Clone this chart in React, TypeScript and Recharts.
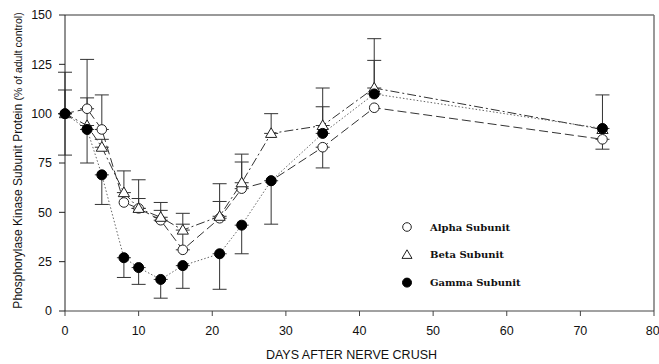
import React from "react";
import { LineChart, Line, XAxis, YAxis, ErrorBar, ReferenceLine, Legend } from "recharts";

const days = [0, 3, 5, 8, 10, 13, 16, 21, 24, 28, 35, 42, 73];
const alpha = [100, 102.5, 92, 55, 52, 46, 31, 47, 62, 66, 83, 103, 87];
const beta = [100, 94, 83, 60, 52, 47.5, 41, 48, 65, 90, 94, 113, 92];
const gamma = [100, 92, 69, 27, 22, 16, 23, 29, 43.5, 66, 90, 110, 92.5];

// [down, up] error amounts, null where no bar is drawn
type Err = [number, number] | null;
const alphaErr: Err[] = [[0, 21], [0, 25], [0, 17.5], null, [0, 14.5], [0, 5], [0, 13], [0, 8.5], [0, 13.5], null, [10.5, 0], null, [5, 0]];
const betaErr: Err[] = [[0, 12], [0, 14], [0, 4], [0, 11], [0, 5], [0, 7.5], [0, 8.5], [0, 16.5], [0, 14.5], [0, 10], [0, 19], [0, 25], null];
const gammaErr: Err[] = [[21, 0], [17, 0], [15, 0], [10, 0], [8.5, 0], [9.5, 0], [11.5, 0], [18, 0], [14.5, 0], [22, 0], [0, 13.5], [0, 17], [0, 17]];

const xTicks = [0, 10, 20, 30, 40, 50, 60, 70, 80];
const yTicks = [0, 25, 50, 75, 100, 125, 150];

const data = days.map((d, i) => ({
  day: d,
  alpha: alpha[i],
  beta: beta[i],
  gamma: gamma[i],
  alphaErr: alphaErr[i],
  betaErr: betaErr[i],
  gammaErr: gammaErr[i],
}));

const tickFont = { fontSize: 12.5, fill: "#111", fontFamily: "'Liberation Sans', Arial, sans-serif" };

// markers ignore the r that Line passes in, sizes are fixed
function OpenCircle(props: any) {
  const { cx, cy, size = 4.8 } = props;
  if (cx == null || cy == null) return null;
  return <circle cx={cx} cy={cy} r={size} fill="#fff" stroke="#222" strokeWidth={1} />;
}

function Triangle(props: any) {
  const { cx, cy, size = 5.6 } = props;
  if (cx == null || cy == null) return null;
  return (
    <path
      d={`M${cx},${cy - size} L${cx + size},${cy + size * 0.72} L${cx - size},${cy + size * 0.72} Z`}
      fill="#fff"
      stroke="#222"
      strokeWidth={1}
    />
  );
}

function FilledCircle(props: any) {
  const { cx, cy, size = 5 } = props;
  if (cx == null || cy == null) return null;
  return <circle cx={cx} cy={cy} r={size} fill="#000" stroke="#000" strokeWidth={1} />;
}

const legendShapes: Record<string, (cx: number, cy: number) => React.ReactNode> = {
  alpha: (cx, cy) => <OpenCircle cx={cx} cy={cy} size={4.3} />,
  beta: (cx, cy) => <Triangle cx={cx} cy={cy} size={5} />,
  gamma: (cx, cy) => <FilledCircle cx={cx} cy={cy} size={4.5} />,
};

function LegendBox(props: any) {
  const { payload = [] } = props;
  return (
    <svg width={200} height={80} style={{ display: "block" }}>
      {payload.map((entry: any, i: number) => {
        const cy = 10 + i * 27.8;
        return (
          <g key={entry.dataKey}>
            {legendShapes[entry.dataKey]?.(7, cy)}
            <text
              x={30}
              y={cy}
              dy="0.35em"
              fontSize={10}
              fontWeight="bold"
              fontFamily="'DejaVu Serif', serif"
              fill="#111"
            >
              {entry.value}
            </text>
          </g>
        );
      })}
    </svg>
  );
}

export default function App() {
  return (
    <div style={{ position: "absolute", left: 0, top: 0 }}>
      <LineChart width={659} height={364} data={data} margin={{ top: 15, right: 5, left: 0, bottom: 0 }}>
        <XAxis
          dataKey="day"
          type="number"
          domain={[0, 80]}
          ticks={xTicks}
          tick={tickFont}
          tickSize={5}
          tickMargin={10}
          height={53}
          stroke="#444"
          label={{
            content: ({ viewBox }: any) => (
              <text
                x={viewBox.x + viewBox.width / 2 - 8}
                y={358.5}
                textAnchor="middle"
                fontSize={12.5}
                fontFamily="'Liberation Sans', Arial, sans-serif"
                fill="#111"
              >
                DAYS AFTER NERVE CRUSH
              </text>
            ),
          }}
        />
        <YAxis
          type="number"
          domain={[0, 150]}
          ticks={yTicks}
          tick={tickFont}
          tickSize={6}
          tickMargin={7}
          width={65}
          stroke="#222"
          label={{
            content: () => (
              <text
                x={21.5}
                y={160.5}
                transform="rotate(-90, 21.5, 160.5)"
                textAnchor="middle"
                fontFamily="'Liberation Sans', Arial, sans-serif"
                fill="#111"
              >
                <tspan fontSize={12}>Phosphorylase Kinase Subunit Protein </tspan>
                <tspan fontSize={10.5}>(% of adult control)</tspan>
              </text>
            ),
          }}
        />
        <ReferenceLine y={150} stroke="#777" strokeWidth={1.5} />
        <ReferenceLine x={80} stroke="#777" strokeWidth={1.5} />
        <Legend
          layout="horizontal"
          align="center"
          verticalAlign="middle"
          content={<LegendBox />}
          wrapperStyle={{ left: 400, top: 216.5, width: 200, height: 80 }}
        />
        <Line
          dataKey="alpha"
          name="Alpha Subunit"
          stroke="#333"
          strokeWidth={1}
          strokeDasharray="9 4"
          dot={<OpenCircle />}
          activeDot={false}
          isAnimationActive={false}
        >
          <ErrorBar dataKey="alphaErr" direction="y" width={7} stroke="#333" strokeWidth={1} />
        </Line>
        <Line
          dataKey="beta"
          name="Beta Subunit"
          stroke="#333"
          strokeWidth={1}
          strokeDasharray="9 3 2 3"
          dot={<Triangle />}
          activeDot={false}
          isAnimationActive={false}
        >
          <ErrorBar dataKey="betaErr" direction="y" width={7} stroke="#333" strokeWidth={1} />
        </Line>
        <Line
          dataKey="gamma"
          name="Gamma Subunit"
          stroke="#666"
          strokeWidth={1}
          strokeDasharray="1.5 2"
          dot={<FilledCircle />}
          activeDot={false}
          isAnimationActive={false}
        >
          <ErrorBar dataKey="gammaErr" direction="y" width={7} stroke="#333" strokeWidth={1} />
        </Line>
      </LineChart>
    </div>
  );
}
